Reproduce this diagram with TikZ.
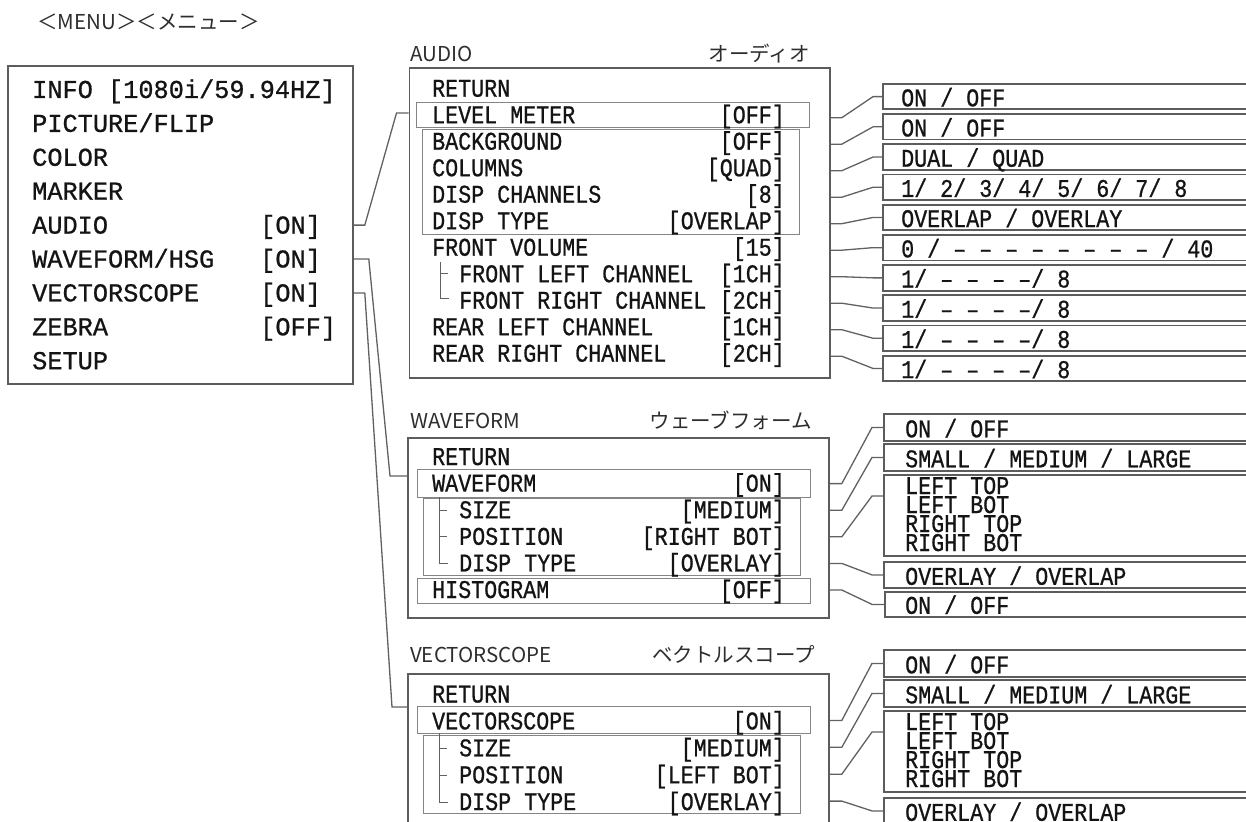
\documentclass[tikz,border=0pt]{standalone}
\usepackage{fontspec}
\usetikzlibrary{calc}
\newfontfamily\jpfont{Noto Sans CJK JP}
\newfontfamily\mmono[FakeStretch=0.98,FakeBold=0.8]{Liberation Mono}
\newfontfamily\smono[FakeStretch=0.85,FakeBold=0.8]{Liberation Mono}
\definecolor{bgray}{gray}{0.36}
\definecolor{igray}{gray}{0.52}
\definecolor{cgray}{gray}{0.38}
\definecolor{tcol}{gray}{0.08}
\definecolor{lcol}{gray}{0.18}
\begin{document}
\begin{tikzpicture}[x=1pt,y=-1pt,
  box/.style={draw=bgray, line width=1.8pt, anchor=north west, inner sep=0pt},
  ibox/.style={draw=igray, line width=1pt, anchor=north west, inner sep=0pt},
  obox/.style={draw=bgray, line width=1.8pt, anchor=north west, inner sep=0pt, minimum width=420pt},
  conn/.style={draw=cgray, line width=1.3pt},
  tree/.style={draw=cgray, line width=1pt},
  mtext/.style={anchor=base west, inner sep=0pt, font=\mmono\fontsize{25.8}{26}\selectfont, text=tcol},
  stext/.style={anchor=base west, inner sep=0pt, font=\smono\fontsize{25.5}{26}\selectfont, text=tcol},
  sval/.style={stext, anchor=base east},
  lbl/.style={anchor=base west, inner sep=0pt, font=\jpfont\fontsize{20.5}{22}\selectfont, text=lcol},
  lblr/.style={lbl, anchor=base east}
]
\useasboundingbox (0,0) rectangle (1246,821);
\begin{scope}
\clip (0,0) rectangle (1246,821);
\fill[white] (0,0) rectangle (1246,821);

% title
\node[lbl] (title) at (37,30) {＜MENU＞＜メニュー＞};

% ---------------- main menu
\node[box, minimum width=345pt, minimum height=318pt] (menu) at (7,65) {};
\node[mtext] (m1) at (32,98) {INFO [1080i/59.94HZ]};
\node[mtext] (m2) at (32,131.9) {PICTURE/FLIP};
\node[mtext] (m3) at (32,165.8) {COLOR};
\node[mtext] (m4) at (32,199.7) {MARKER};
\node[mtext] (m5) at (32,233.6) {AUDIO};
\node[mtext] (m6) at (32,267.5) {WAVEFORM/HSG};
\node[mtext] (m7) at (32,301.4) {VECTORSCOPE};
\node[mtext] (m8) at (32,335.3) {ZEBRA};
\node[mtext] (m9) at (32,369.2) {SETUP};
\node[mtext] (v5) at (260,233.6) {[ON]};
\node[mtext] (v6) at (260,267.5) {[ON]};
\node[mtext] (v7) at (260,301.4) {[ON]};
\node[mtext] (v8) at (260,335.3) {[OFF]};

% ---------------- AUDIO
\node[lbl] (audlbl) at (410,62) {AUDIO};
\node[lblr] (audjp) at (810,62) {オーディオ};
\node[box, minimum width=420.5pt, minimum height=310pt] (aud) at (408.5,67) {};
\node[ibox, minimum width=393pt, minimum height=25pt] (alvl) at (416,102) {};
\node[ibox, minimum width=377pt, minimum height=105pt] (agrp) at (422,129) {};
\node[stext] (a0) at (432,96.7) {RETURN};
\node[stext] (a1) at (432,123.2) {LEVEL METER};
\node[stext] (a2) at (432,149.7) {BACKGROUND};
\node[stext] (a3) at (432,176.2) {COLUMNS};
\node[stext] (a4) at (432,202.7) {DISP CHANNELS};
\node[stext] (a5) at (432,229.2) {DISP TYPE};
\node[stext] (a6) at (432,255.7) {FRONT VOLUME};
\node[stext] (a7) at (459,282.2) {FRONT LEFT CHANNEL};
\node[stext] (a8) at (459,308.7) {FRONT RIGHT CHANNEL};
\node[stext] (a9) at (432,335.2) {REAR LEFT CHANNEL};
\node[stext] (a10) at (432,361.7) {REAR RIGHT CHANNEL};
\node[sval] (b1) at (785,123.2) {[OFF]};
\node[sval] (b2) at (785,149.7) {[OFF]};
\node[sval] (b3) at (785,176.2) {[QUAD]};
\node[sval] (b4) at (785,202.7) {[8]};
\node[sval] (b5) at (785,229.2) {[OVERLAP]};
\node[sval] (b6) at (785,255.7) {[15]};
\node[sval] (b7) at (785,282.2) {[1CH]};
\node[sval] (b8) at (785,308.7) {[2CH]};
\node[sval] (b9) at (785,335.2) {[1CH]};
\node[sval] (b10) at (785,361.7) {[2CH]};
\draw[tree] ($(a7.base west)+(-19,-20)$) -- ($(a8.base west)+(-19,-10)$) -- ++(9,0);
\draw[tree] ($(a7.base west)+(-19,-8.5)$) -- ++(8,0);

% audio option boxes
\node[obox, minimum height=25.5pt] (o1) at (882,83) {};
\node[obox, minimum height=25.5pt] (o2) at (882,113.2) {};
\node[obox, minimum height=25.5pt] (o3) at (882,143.4) {};
\node[obox, minimum height=25.5pt] (o4) at (882,173.6) {};
\node[obox, minimum height=25.5pt] (o5) at (882,203.8) {};
\node[obox, minimum height=25.5pt] (o6) at (882,234) {};
\node[obox, minimum height=25.5pt] (o7) at (882,264.2) {};
\node[obox, minimum height=25.5pt] (o8) at (882,294.4) {};
\node[obox, minimum height=25.5pt] (o9) at (882,324.6) {};
\node[obox, minimum height=25.5pt] (o10) at (882,354.8) {};
\node[stext] (ot1) at ($(o1.south west)+(19,-4)$) {ON / OFF};
\node[stext] (ot2) at ($(o2.south west)+(19,-4)$) {ON / OFF};
\node[stext] (ot3) at ($(o3.south west)+(19,-4)$) {DUAL / QUAD};
\node[stext] (ot4) at ($(o4.south west)+(19,-4)$) {1/ 2/ 3/ 4/ 5/ 6/ 7/ 8};
\node[stext] (ot5) at ($(o5.south west)+(19,-4)$) {OVERLAP / OVERLAY};
\node[stext] (ot6) at ($(o6.south west)+(19,-4)$) {0 / – – – – – – – – / 40};
\node[stext] (ot7) at ($(o7.south west)+(19,-4)$) {1/ – – – –/ 8};
\node[stext] (ot8) at ($(o8.south west)+(19,-4)$) {1/ – – – –/ 8};
\node[stext] (ot9) at ($(o9.south west)+(19,-4)$) {1/ – – – –/ 8};
\node[stext] (ot10) at ($(o10.south west)+(19,-4)$) {1/ – – – –/ 8};
\foreach \r/\o in {a1/o1,a2/o2,a3/o3,a4/o4,a5/o5,a6/o6,a7/o7,a8/o8,a9/o9,a10/o10}{
  \draw[conn] ($(aud.east |- \r.base)+(0,-5.5)$) -- ++(11,0) -- ($(\o.west)+(-9,0)$) -- (\o.west);
}

% ---------------- WAVEFORM
\node[lbl] (wavlbl) at (410,428) {WAVEFORM};
\node[lblr] (wavjp) at (812,428) {ウェーブフォーム};
\node[box, minimum width=421pt, minimum height=180pt] (wav) at (407,437) {};
\node[ibox, minimum width=393pt, minimum height=28pt] (wwf) at (417,469) {};
\node[ibox, minimum width=377pt, minimum height=77pt] (wgrp) at (423,498) {};
\node[ibox, minimum width=393pt, minimum height=25pt] (whist) at (417,578) {};
\node[stext] (w0) at (432,465) {RETURN};
\node[stext] (w1) at (432,491.6) {WAVEFORM};
\node[stext] (w2) at (459,518.2) {SIZE};
\node[stext] (w3) at (459,544.8) {POSITION};
\node[stext] (w4) at (459,571.4) {DISP TYPE};
\node[stext] (w5) at (432,598) {HISTOGRAM};
\node[sval] (x1) at (785,491.6) {[ON]};
\node[sval] (x2) at (785,518.2) {[MEDIUM]};
\node[sval] (x3) at (785,544.8) {[RIGHT BOT]};
\node[sval] (x4) at (785,571.4) {[OVERLAY]};
\node[sval] (x5) at (785,598) {[OFF]};
\draw[tree] ($(w2.base west)+(-20,-21)$) -- ($(w4.base west)+(-20,-8)$) -- ++(9,0);
\draw[tree] ($(w2.base west)+(-20,-7.5)$) -- ++(8,0);
\draw[tree] ($(w3.base west)+(-20,-8)$) -- ++(8,0);

\node[obox, minimum height=27pt] (p1) at (883,413) {};
\node[obox, minimum height=27pt] (p2) at (883,443) {};
\node[obox, minimum height=81pt] (p3) at (883,474) {};
\node[obox, minimum height=26pt] (p4) at (883,561) {};
\node[obox, minimum height=25pt] (p5) at (884,591) {};
\node[stext] (pt1) at ($(p1.south west)+(22,-4.5)$) {ON / OFF};
\node[stext] (pt2) at ($(p2.south west)+(22,-4.5)$) {SMALL / MEDIUM / LARGE};
\node[stext] (pt3a) at ($(p3.north west)+(22,20)$) {LEFT TOP};
\node[stext] (pt3b) at ($(p3.north west)+(22,39)$) {LEFT BOT};
\node[stext] (pt3c) at ($(p3.north west)+(22,58)$) {RIGHT TOP};
\node[stext] (pt3d) at ($(p3.north west)+(22,77)$) {RIGHT BOT};
\node[stext] (pt4) at ($(p4.south west)+(22,-4)$) {OVERLAY / OVERLAP};
\node[stext] (pt5) at ($(p5.south west)+(21,-4)$) {ON / OFF};
\draw[conn] ($(wav.east |- w1.base)+(0,-8)$) -- ++(12,0) -- ($(p1.west)+(-11,0)$) -- (p1.west);
\draw[conn] ($(wav.east |- w2.base)+(0,-8)$) -- ++(12,0) -- ($(p2.west)+(-11,0)$) -- (p2.west);
\draw[conn] ($(wav.east |- w3.base)+(0,-8)$) -- ++(12,0) -- ($(p3.north west)+(-11,22)$) -- ($(p3.north west)+(0,22)$);
\draw[conn] ($(wav.east |- w4.base)+(0,-8)$) -- ++(12,0) -- ($(p4.west)+(-11,0)$) -- (p4.west);
\draw[conn] ($(wav.east |- w5.base)+(0,-8)$) -- ++(12,0) -- ($(p5.west)+(-12,0)$) -- (p5.west);

% ---------------- VECTORSCOPE
\node[lbl] (veclbl) at (410,662) {VECTORSCOPE};
\node[lblr] (vecjp) at (815,662) {ベクトルスコープ};
\node[box, minimum width=421pt, minimum height=300pt] (vec) at (407,673) {};
\node[ibox, minimum width=393pt, minimum height=27pt] (vvs) at (417,706) {};
\node[ibox, minimum width=377pt, minimum height=78pt] (vgrp) at (423,735) {};
\node[stext] (s0) at (432,702.5) {RETURN};
\node[stext] (s1) at (432,729.4) {VECTORSCOPE};
\node[stext] (s2) at (459,756.3) {SIZE};
\node[stext] (s3) at (459,783.2) {POSITION};
\node[stext] (s4) at (459,810.1) {DISP TYPE};
\node[sval] (y1) at (785,729.4) {[ON]};
\node[sval] (y2) at (785,756.3) {[MEDIUM]};
\node[sval] (y3) at (785,783.2) {[LEFT BOT]};
\node[sval] (y4) at (785,810.1) {[OVERLAY]};
\draw[tree] ($(s2.base west)+(-20,-23)$) -- ($(s4.base west)+(-20,-8)$) -- ++(9,0);
\draw[tree] ($(s2.base west)+(-20,-8)$) -- ++(8,0);
\draw[tree] ($(s3.base west)+(-20,-8)$) -- ++(8,0);

\node[obox, minimum height=27pt] (q1) at (883,649) {};
\node[obox, minimum height=27pt] (q2) at (883,679) {};
\node[obox, minimum height=81pt] (q3) at (883,710) {};
\node[obox, minimum height=26pt] (q4) at (883,797) {};
\node[stext] (qt1) at ($(q1.south west)+(22,-4.5)$) {ON / OFF};
\node[stext] (qt2) at ($(q2.south west)+(22,-4.5)$) {SMALL / MEDIUM / LARGE};
\node[stext] (qt3a) at ($(q3.north west)+(22,20)$) {LEFT TOP};
\node[stext] (qt3b) at ($(q3.north west)+(22,39)$) {LEFT BOT};
\node[stext] (qt3c) at ($(q3.north west)+(22,58)$) {RIGHT TOP};
\node[stext] (qt3d) at ($(q3.north west)+(22,77)$) {RIGHT BOT};
\node[stext] (qt4) at ($(q4.south west)+(22,-4)$) {OVERLAY / OVERLAP};
\draw[conn] ($(vec.east |- s1.base)+(0,-9)$) -- ++(12,0) -- ($(q1.west)+(-11,0)$) -- (q1.west);
\draw[conn] ($(vec.east |- s2.base)+(0,-9)$) -- ++(12,0) -- ($(q2.west)+(-11,0)$) -- (q2.west);
\draw[conn] ($(vec.east |- s3.base)+(0,-9)$) -- ++(12,0) -- ($(q3.north west)+(-11,22)$) -- ($(q3.north west)+(0,22)$);
\draw[conn] ($(vec.east |- s4.base)+(0,-9)$) -- ++(12,0) -- ($(q4.west)+(-11,0)$) -- (q4.west);

% ---------------- main menu connectors
\draw[conn] ($(menu.east |- m5.base)+(0,-8.5)$) -- ++(11,0) -- ($(aud.north west)+(-12,46)$) -- ($(aud.north west)+(0,46)$);
\draw[conn] ($(menu.east |- m6.base)+(0,-8.5)$) -- ++(15,0) -- ($(wav.north west)+(-17,39)$) -- ($(wav.north west)+(0,39)$);
\draw[conn] ($(menu.east |- m7.base)+(0,-8.5)$) -- ++(11,0) -- ($(vec.north west)+(-15,34)$) -- ($(vec.north west)+(0,34)$);
\end{scope}
\end{tikzpicture}
\end{document}
